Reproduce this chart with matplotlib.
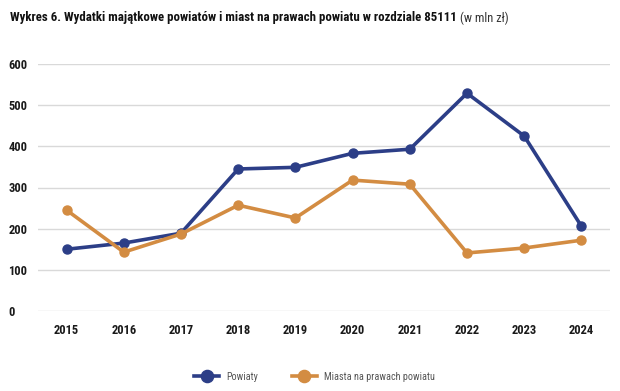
import matplotlib.pyplot as plt
from matplotlib import font_manager

years = ['2015', '2016', '2017', '2018', '2019', '2020', '2021', '2022', '2023', '2024']
powiaty = [150, 165, 189, 345, 349, 383, 393, 529, 425, 206]
miasta = [245, 143, 187, 257, 226, 318, 308, 141, 153, 172]
yticks = [0, 100, 200, 300, 400, 500, 600]

names = {f.name for f in font_manager.fontManager.ttflist}
fam = 'Roboto'
for cand in ['Roboto Condensed', 'Liberation Sans Narrow', 'DejaVu Sans Condensed', 'Open Sans Condensed']:
    if cand in names:
        fam = cand
        break
plt.rcParams['font.family'] = [fam, 'DejaVu Sans']
condensed = fam != 'Roboto'

navy = '#2c3e87'
orange = '#d38c42'

fig = plt.figure(figsize=(6.2, 3.91), dpi=100)
ax = fig.add_axes([38 / 620, 1 - 311 / 391, 572 / 620, 247 / 391])

x = list(range(len(years)))
ax.plot(x, powiaty, color=navy, lw=2.6, marker='o', ms=6.5, label='Powiaty', zorder=3)
ax.plot(x, miasta, color=orange, lw=2.6, marker='o', ms=6.5, label='Miasta na prawach powiatu', zorder=3)

ax.set_xlim(-0.5, 9.5)
ax.set_ylim(0, 600)
ax.set_yticks(yticks)
ax.set_xticks(x)
ax.set_xticklabels(years)
ax.grid(axis='y', color='#d9d9d9', lw=1)
ax.set_axisbelow(True)
for s in ax.spines.values():
    s.set_visible(False)
ax.tick_params(length=0)
ax.tick_params(axis='y', pad=21.5)
ax.tick_params(axis='x', pad=9)
tsize = 9 if condensed else 7.5
for lab in ax.get_xticklabels() + ax.get_yticklabels():
    lab.set_fontweight('bold')
    lab.set_fontsize(tsize)
    lab.set_color('#1a1a1a')
for lab in ax.get_yticklabels():
    lab.set_horizontalalignment('left')

title_size = 9.3 if condensed else 8
fig.text(10 / 620, 1 - 18 / 391, 'Wykres 6. Wydatki majątkowe powiatów i miast na prawach powiatu w rozdziale 85111',
         fontsize=title_size, fontweight='bold', va='center', ha='left', color='#111111')
t = fig.texts[0]
fig.canvas.draw()
bb = t.get_window_extent()
fig.text(bb.x1 / 620 + 0.005, 1 - 18 / 391, '(w mln zł)', fontsize=title_size - 0.3, va='center', ha='left', color='#333333')

lsize = 7.3
fig.legend(loc='center', bbox_to_anchor=(0.507, 1 - 377 / 391), ncol=2, frameon=False,
           fontsize=lsize, handlelength=18 / lsize, handletextpad=5 / lsize, columnspacing=24.5 / lsize,
           markerscale=1.35, labelcolor='#555555')

fig.savefig('out.png', dpi=100)
